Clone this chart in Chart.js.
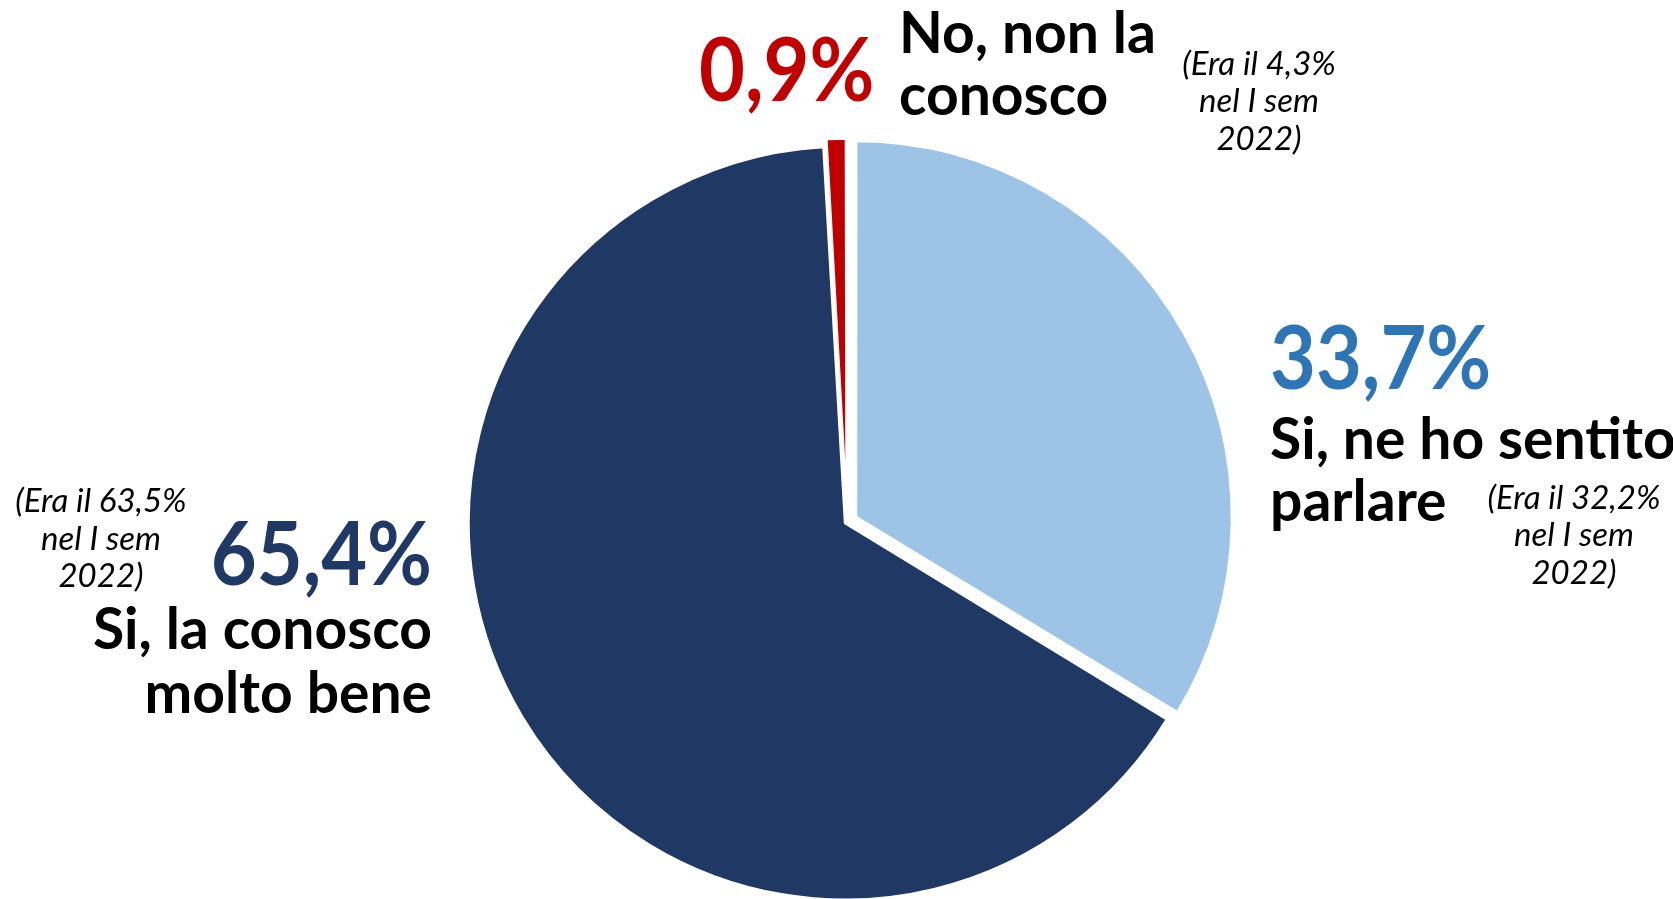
<!DOCTYPE html>
<html lang="it">
<head>
    <meta charset="UTF-8">
    <title>Pie</title>
    <style>
        body { margin: 0; background: #fff; }
        #box { width: 1673px; height: 899px; }
    </style>
</head>
<body>
    <div id="box"><canvas id="pie" width="1673" height="899"></canvas></div>

    <script src="https://cdn.jsdelivr.net/npm/chart.js@4.4.0/dist/chart.umd.min.js"></script>
    <script>
        // dati
        const categories = ['Si, ne ho sentito parlare', 'Si, la conosco molto bene', 'No, non la conosco'];
        const values = [33.7, 65.4, 0.9];
        const previous = [32.2, 63.5, 4.3];
        const sliceColors = ['#9DC3E6', '#203864', '#C00000'];
        const valueColors = ['#2E75B6', '#203864', '#C00000'];

        const fmt = v => v.toFixed(1).replace('.', ',') + '%';
        const FONT = 'Lato, "DejaVu Sans", sans-serif';

        // etichette: testo, posizione, allineamento
        const labels = [
            { // Si, ne ho sentito parlare
                big: { x: 1270, y: 389, align: 'left' },
                name: [['Si, ne ho sentito', 1270, 459], ['parlare', 1270, 521]],
                nameAlign: 'left',
                prev: { x: 1574, y: [498, 535, 573] }
            },
            { // Si, la conosco molto bene
                big: { x: 432, y: 585, align: 'right' },
                name: [['Si, la conosco', 432, 649], ['molto bene', 432, 713]],
                nameAlign: 'right',
                prev: { x: 101, y: [501, 539, 576] }
            },
            { // No, non la conosco
                big: { x: 699, y: 101, align: 'left' },
                name: [['No, non la', 899, 53], ['conosco', 899, 115]],
                nameAlign: 'left',
                prev: { x: 1259, y: [64, 101, 139] }
            }
        ];

        const textPlugin = {
            id: 'testi',
            afterDraw(chart) {
                const ctx = chart.ctx;
                labels.forEach((l, i) => {
                    // percentuale grande, un po' più stretta
                    ctx.save();
                    ctx.textBaseline = 'alphabetic';
                    ctx.fillStyle = valueColors[i];
                    ctx.font = 'bold 88px ' + FONT;
                    ctx.textAlign = l.big.align;
                    ctx.translate(l.big.x, l.big.y);
                    ctx.scale(0.9, 1);
                    ctx.fillText(fmt(values[i]), 0, 0);
                    ctx.restore();

                    ctx.save();
                    ctx.fillStyle = '#000';
                    ctx.font = 'bold 57px ' + FONT;
                    ctx.textAlign = l.nameAlign;
                    l.name.forEach(n => ctx.fillText(n[0], n[1], n[2]));

                    ctx.font = 'italic 33px ' + FONT;
                    ctx.textAlign = 'center';
                    ctx.textBaseline = 'middle';
                    const lines = ['(Era il ' + fmt(previous[i]), 'nel I sem', '2022)'];
                    lines.forEach((t, k) => ctx.fillText(t, l.prev.x, l.prev.y[k]));
                    ctx.restore();
                });
            }
        };

        const ctx = document.getElementById('pie').getContext('2d');
        new Chart(ctx, {
            type: 'pie',
            data: {
                labels: categories,
                datasets: [{
                    data: values,
                    backgroundColor: sliceColors,
                    borderColor: '#fff',
                    borderWidth: 3,
                    offset: [40, 8, 18],
                    radius: 375
                }]
            },
            options: {
                responsive: false,
                animation: false,
                devicePixelRatio: 1,
                layout: { padding: { left: 21, top: 145, right: 0, bottom: 0 } },
                plugins: {
                    legend: { display: false },
                    tooltip: { enabled: false }
                }
            },
            plugins: [textPlugin]
        });
    </script>
</body>
</html>
